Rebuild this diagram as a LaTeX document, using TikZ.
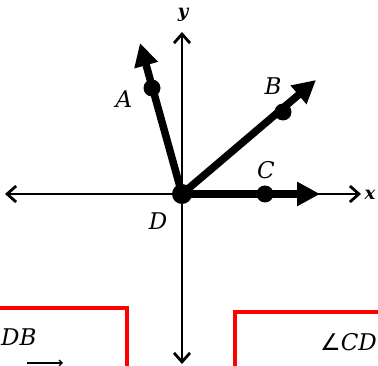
\documentclass[tikz,border=0pt]{standalone}
\usepackage{fontspec}
\setmainfont{DejaVu Serif}
\newfontfamily\symfont{DejaVu Sans}
\usetikzlibrary{arrows.meta}
\begin{document}
\begin{tikzpicture}[x=1pt,y=-1pt,
  every node/.style={font=\fontsize{23}{23}\selectfont\itshape},
  axis/.style={line width=2.8pt,{Straight Barb[length=9pt,width=16pt]}-{Straight Barb[length=9pt,width=16pt]}},
  ray/.style={line width=7.5pt,-{Triangle[length=23pt,width=23pt]}},
  pt/.style={circle,fill,inner sep=0pt,minimum size=17pt},
  box/.style={red,line width=4pt}]
  \useasboundingbox (0,0) rectangle (378,366);
  \clip (0,0) rectangle (378,366);
  % axes
  \coordinate (xl) at (5,194);
  \coordinate (xr) at (361,194);
  \coordinate (yt) at (182,32);
  \coordinate (yb) at (182,364);
  \draw[axis] (xl) -- (xr);
  \draw[axis] (yb) -- (yt);
  % rays from D
  \coordinate (D) at (182,194);
  \coordinate (tA) at (140,43);
  \coordinate (tB) at (316,80);
  \coordinate (tC) at (320,194);
  \draw[ray] (D) -- (tA);
  \draw[ray] (D) -- (tB);
  \draw[ray] (D) -- (tC);
  \node[pt,minimum size=20pt] at (D) {};
  \node[pt] (A) at (152,88) {};
  \node[pt] (B) at (283,112) {};
  \node[pt] (C) at (265,194) {};
  % labels
  \node[font=\fontsize{18}{18}\selectfont\itshape\bfseries] at (183,15) {y};
  \node[font=\fontsize{18}{18}\selectfont\itshape\bfseries] at (370,195) {x};
  \node at (124,99) {A};
  \node at (273,86) {B};
  \node at (266,170) {C};
  \node at (158,221) {D};
  % boxes below
  \draw[box] (-10,308) -- (127,308) -- (127,380);
  \draw[box] (235,380) -- (235,312) -- (390,312);
  \node[anchor=west,inner sep=0pt] (DB) at (1,337) {DB};
  \node[anchor=west,inner sep=0pt] (CD) at (320,342) {{\symfont\upshape ∠}CD};
  \coordinate (v0) at (27,363);
  \coordinate (v1) at (63,363);
  \draw[line width=1.3pt,-{Straight Barb[length=3pt,width=6pt]}] (v0) -- (v1);
\end{tikzpicture}
\end{document}
